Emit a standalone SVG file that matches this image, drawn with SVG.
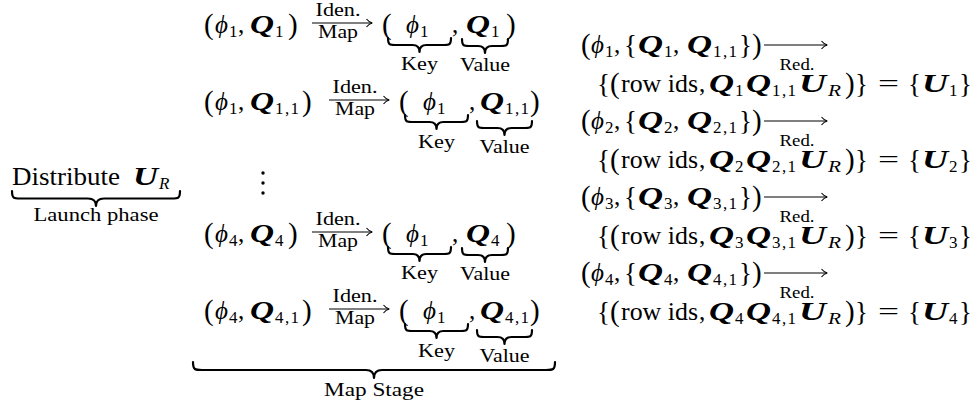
<svg xmlns="http://www.w3.org/2000/svg" width="976" height="409" viewBox="0 0 976 409" font-family="'Liberation Serif', serif">
<defs>
<style>
text{font-family:"Liberation Serif","Times New Roman",serif;fill:#000}
.m{font-size:25px}
.p{font-size:29px}
.c{font-size:27px}
.i{font-style:italic}
.b{font-style:italic;font-weight:bold;font-size:26px}
.s{font-size:17px}
.l{font-size:19px;text-anchor:middle}
.r{font-size:17px;text-anchor:middle}
.br{fill:none;stroke:#000;stroke-width:2.2;stroke-linecap:round;stroke-linejoin:round}
.ar{fill:none;stroke:#000;stroke-width:1.1}
.dot{fill:#000}
</style>
<marker id="ah" markerWidth="10" markerHeight="10" refX="9" refY="5" orient="auto" markerUnits="userSpaceOnUse">
<path d="M3.5 1 Q6 4.2 9.3 5 Q6 5.8 3.5 9" fill="none" stroke="#000" stroke-width="1.1"/>
</marker>
</defs>
<rect width="976" height="409" fill="#fff"/>

<g id="launch">
<text class="m" y="185"><tspan x="12" textLength="108" lengthAdjust="spacingAndGlyphs">Distribute</tspan><tspan x="133" class="b" textLength="25" lengthAdjust="spacingAndGlyphs">U</tspan><tspan x="159" y="189" class="s i">R</tspan></text>
<path class="br" d="M12 191 C12 198.5 14 198.5 20 198.5 L88 198.5 C93 198.5 96 200.5 96 206 C96 200.5 99 198.5 104 198.5 L172 198.5 C178 198.5 180 198.5 180 191"/>
<text class="l" x="96" y="221" textLength="125" lengthAdjust="spacingAndGlyphs">Launch phase</text>
</g>

<g id="map-stage">
<g id="map-row1">
<text class="m"><tspan x="204" y="34" class="p">(</tspan><tspan x="215" y="33" class="i">ϕ</tspan><tspan x="229" y="37" class="s">1</tspan><tspan x="238" y="33">,</tspan><tspan x="250" y="33" class="b" textLength="24" lengthAdjust="spacingAndGlyphs">Q</tspan><tspan x="275" y="37" class="s">1</tspan><tspan x="288" y="34" class="p">)</tspan></text>
<text class="l" x="338" y="16" textLength="45" lengthAdjust="spacingAndGlyphs">Iden.</text>
<text class="l" x="338" y="38" textLength="40" lengthAdjust="spacingAndGlyphs">Map</text>
<text class="m"><tspan x="382" y="34" class="p">(</tspan><tspan x="406" y="33" class="i">ϕ</tspan><tspan x="420" y="37" class="s">1</tspan><tspan x="452" y="33">,</tspan><tspan x="466" y="33" class="b" textLength="24" lengthAdjust="spacingAndGlyphs">Q</tspan><tspan x="491" y="37" class="s">1</tspan><tspan x="506" y="34" class="p">)</tspan></text>
<path class="br" d="M388 38 C388 45 390 45 395 45 L412.5 45 C417.5 45 419.5 47 419.5 52 C419.5 47 421.5 45 426.5 45 L444 45 C449 45 451 45 451 38"/>
<path class="br" d="M462 39 C462 46 464 46 469 46 L478 46 C483 46 485 48 485 53 C485 48 487 46 492 46 L501 46 C506 46 508 46 508 39"/>
<text class="l" x="419.5" y="70" textLength="37" lengthAdjust="spacingAndGlyphs">Key</text>
<text class="l" x="485" y="71" textLength="50" lengthAdjust="spacingAndGlyphs">Value</text>
</g>
<g id="map-row2">
<text class="m"><tspan x="204" y="111" class="p">(</tspan><tspan x="215" y="110" class="i">ϕ</tspan><tspan x="229" y="114" class="s">1</tspan><tspan x="238" y="110">,</tspan><tspan x="250" y="110" class="b" textLength="24" lengthAdjust="spacingAndGlyphs">Q</tspan><tspan x="275" y="114" class="s" textLength="24">1,1</tspan><tspan x="302" y="111" class="p">)</tspan></text>
<text class="l" x="355" y="93" textLength="45" lengthAdjust="spacingAndGlyphs">Iden.</text>
<text class="l" x="355" y="115" textLength="40" lengthAdjust="spacingAndGlyphs">Map</text>
<text class="m"><tspan x="399" y="111" class="p">(</tspan><tspan x="423" y="110" class="i">ϕ</tspan><tspan x="437" y="114" class="s">1</tspan><tspan x="469" y="110">,</tspan><tspan x="480" y="110" class="b" textLength="24" lengthAdjust="spacingAndGlyphs">Q</tspan><tspan x="505" y="114" class="s" textLength="24">1,1</tspan><tspan x="530" y="111" class="p">)</tspan></text>
<path class="br" d="M405 115 C405 122 407 122 412 122 L429.5 122 C434.5 122 436.5 124 436.5 129 C436.5 124 438.5 122 443.5 122 L461 122 C466 122 468 122 468 115"/>
<path class="br" d="M477 121 C477 128 479 128 484 128 L497.5 128 C502.5 128 504.5 130 504.5 135 C504.5 130 506.5 128 511.5 128 L525 128 C530 128 532 128 532 121"/>
<text class="l" x="436.5" y="148" textLength="37" lengthAdjust="spacingAndGlyphs">Key</text>
<text class="l" x="504.5" y="153" textLength="50" lengthAdjust="spacingAndGlyphs">Value</text>
</g>
<g id="map-dots">
<circle class="dot" cx="263" cy="173" r="1.7"/>
<circle class="dot" cx="263" cy="183" r="1.7"/>
<circle class="dot" cx="263" cy="193" r="1.7"/>
</g>
<g id="map-row4" transform="translate(0,209)">
<text class="m"><tspan x="204" y="34" class="p">(</tspan><tspan x="215" y="33" class="i">ϕ</tspan><tspan x="229" y="37" class="s">4</tspan><tspan x="238" y="33">,</tspan><tspan x="250" y="33" class="b" textLength="24" lengthAdjust="spacingAndGlyphs">Q</tspan><tspan x="275" y="37" class="s">4</tspan><tspan x="288" y="34" class="p">)</tspan></text>
<text class="l" x="338" y="16" textLength="45" lengthAdjust="spacingAndGlyphs">Iden.</text>
<text class="l" x="338" y="38" textLength="40" lengthAdjust="spacingAndGlyphs">Map</text>
<text class="m"><tspan x="382" y="34" class="p">(</tspan><tspan x="406" y="33" class="i">ϕ</tspan><tspan x="420" y="37" class="s">1</tspan><tspan x="452" y="33">,</tspan><tspan x="466" y="33" class="b" textLength="24" lengthAdjust="spacingAndGlyphs">Q</tspan><tspan x="491" y="37" class="s">4</tspan><tspan x="506" y="34" class="p">)</tspan></text>
<path class="br" d="M388 38 C388 45 390 45 395 45 L412.5 45 C417.5 45 419.5 47 419.5 52 C419.5 47 421.5 45 426.5 45 L444 45 C449 45 451 45 451 38"/>
<path class="br" d="M462 39 C462 46 464 46 469 46 L478 46 C483 46 485 48 485 53 C485 48 487 46 492 46 L501 46 C506 46 508 46 508 39"/>
<text class="l" x="419.5" y="70" textLength="37" lengthAdjust="spacingAndGlyphs">Key</text>
<text class="l" x="485" y="71" textLength="50" lengthAdjust="spacingAndGlyphs">Value</text>
</g>
<g id="map-row5" transform="translate(0,209)">
<text class="m"><tspan x="204" y="111" class="p">(</tspan><tspan x="215" y="110" class="i">ϕ</tspan><tspan x="229" y="114" class="s">4</tspan><tspan x="238" y="110">,</tspan><tspan x="250" y="110" class="b" textLength="24" lengthAdjust="spacingAndGlyphs">Q</tspan><tspan x="275" y="114" class="s" textLength="24">4,1</tspan><tspan x="302" y="111" class="p">)</tspan></text>
<text class="l" x="355" y="93" textLength="45" lengthAdjust="spacingAndGlyphs">Iden.</text>
<text class="l" x="355" y="115" textLength="40" lengthAdjust="spacingAndGlyphs">Map</text>
<text class="m"><tspan x="399" y="111" class="p">(</tspan><tspan x="423" y="110" class="i">ϕ</tspan><tspan x="437" y="114" class="s">1</tspan><tspan x="469" y="110">,</tspan><tspan x="480" y="110" class="b" textLength="24" lengthAdjust="spacingAndGlyphs">Q</tspan><tspan x="505" y="114" class="s" textLength="24">4,1</tspan><tspan x="530" y="111" class="p">)</tspan></text>
<path class="br" d="M405 115 C405 122 407 122 412 122 L429.5 122 C434.5 122 436.5 124 436.5 129 C436.5 124 438.5 122 443.5 122 L461 122 C466 122 468 122 468 115"/>
<path class="br" d="M477 121 C477 128 479 128 484 128 L497.5 128 C502.5 128 504.5 130 504.5 135 C504.5 130 506.5 128 511.5 128 L525 128 C530 128 532 128 532 121"/>
<text class="l" x="436.5" y="148" textLength="37" lengthAdjust="spacingAndGlyphs">Key</text>
<text class="l" x="504.5" y="153" textLength="50" lengthAdjust="spacingAndGlyphs">Value</text>
</g>
<path class="br" d="M193 362 C193 370 195 370 202 370 L366 370 C371 370 374 372 374 378 C374 372 377 370 382 370 L546 370 C553 370 555 370 555 362"/>
<text class="l" x="374" y="396" textLength="100" lengthAdjust="spacingAndGlyphs">Map Stage</text>
</g>

<g id="reduce">
<g id="red1">
<text class="m"><tspan x="581" y="54" class="p">(</tspan><tspan x="591" y="53" class="i">ϕ</tspan><tspan x="605" y="57" class="s">1</tspan><tspan x="614" y="53">,</tspan><tspan x="624" y="54" class="c">{</tspan><tspan x="638" y="53" class="b" textLength="25" lengthAdjust="spacingAndGlyphs">Q</tspan><tspan x="664" y="57" class="s">1</tspan><tspan x="673" y="53">,</tspan><tspan x="687" y="53" class="b" textLength="25" lengthAdjust="spacingAndGlyphs">Q</tspan><tspan x="713" y="57" class="s" textLength="24">1,1</tspan><tspan x="739" y="54" class="c">}</tspan><tspan x="752" y="54" class="p">)</tspan></text>
<text class="r" x="797" y="70" textLength="35" lengthAdjust="spacingAndGlyphs">Red.</text>
<text class="m"><tspan x="597" y="93" class="c">{</tspan><tspan x="610" y="93" class="p">(</tspan><tspan x="621" y="92" textLength="77" lengthAdjust="spacingAndGlyphs">row ids</tspan><tspan x="699" y="92">,</tspan><tspan x="709" y="92" class="b" textLength="25" lengthAdjust="spacingAndGlyphs">Q</tspan><tspan x="735" y="96" class="s">1</tspan><tspan x="746" y="92" class="b" textLength="25" lengthAdjust="spacingAndGlyphs">Q</tspan><tspan x="772" y="96" class="s" textLength="24">1,1</tspan><tspan x="799" y="92" class="b" textLength="27" lengthAdjust="spacingAndGlyphs">U</tspan><tspan x="828" y="96" class="s i" textLength="13" lengthAdjust="spacingAndGlyphs">R</tspan><tspan x="845" y="93" class="p">)</tspan><tspan x="855" y="93" class="c">}</tspan><tspan x="878" y="92" textLength="21" lengthAdjust="spacingAndGlyphs">=</tspan><tspan x="908" y="93" class="c">{</tspan><tspan x="922" y="92" class="b" textLength="26" lengthAdjust="spacingAndGlyphs">U</tspan><tspan x="949" y="96" class="s">1</tspan><tspan x="959" y="93" class="c">}</tspan></text>
</g>
<g id="red2" transform="translate(0,76)">
<text class="m"><tspan x="581" y="54" class="p">(</tspan><tspan x="591" y="53" class="i">ϕ</tspan><tspan x="605" y="57" class="s">2</tspan><tspan x="614" y="53">,</tspan><tspan x="624" y="54" class="c">{</tspan><tspan x="638" y="53" class="b" textLength="25" lengthAdjust="spacingAndGlyphs">Q</tspan><tspan x="664" y="57" class="s">2</tspan><tspan x="673" y="53">,</tspan><tspan x="687" y="53" class="b" textLength="25" lengthAdjust="spacingAndGlyphs">Q</tspan><tspan x="713" y="57" class="s" textLength="24">2,1</tspan><tspan x="739" y="54" class="c">}</tspan><tspan x="752" y="54" class="p">)</tspan></text>
<text class="r" x="797" y="70" textLength="35" lengthAdjust="spacingAndGlyphs">Red.</text>
<text class="m"><tspan x="597" y="93" class="c">{</tspan><tspan x="610" y="93" class="p">(</tspan><tspan x="621" y="92" textLength="77" lengthAdjust="spacingAndGlyphs">row ids</tspan><tspan x="699" y="92">,</tspan><tspan x="709" y="92" class="b" textLength="25" lengthAdjust="spacingAndGlyphs">Q</tspan><tspan x="735" y="96" class="s">2</tspan><tspan x="746" y="92" class="b" textLength="25" lengthAdjust="spacingAndGlyphs">Q</tspan><tspan x="772" y="96" class="s" textLength="24">2,1</tspan><tspan x="799" y="92" class="b" textLength="27" lengthAdjust="spacingAndGlyphs">U</tspan><tspan x="828" y="96" class="s i" textLength="13" lengthAdjust="spacingAndGlyphs">R</tspan><tspan x="845" y="93" class="p">)</tspan><tspan x="855" y="93" class="c">}</tspan><tspan x="878" y="92" textLength="21" lengthAdjust="spacingAndGlyphs">=</tspan><tspan x="908" y="93" class="c">{</tspan><tspan x="922" y="92" class="b" textLength="26" lengthAdjust="spacingAndGlyphs">U</tspan><tspan x="949" y="96" class="s">2</tspan><tspan x="959" y="93" class="c">}</tspan></text>
</g>
<g id="red3" transform="translate(0,152)">
<text class="m"><tspan x="581" y="54" class="p">(</tspan><tspan x="591" y="53" class="i">ϕ</tspan><tspan x="605" y="57" class="s">3</tspan><tspan x="614" y="53">,</tspan><tspan x="624" y="54" class="c">{</tspan><tspan x="638" y="53" class="b" textLength="25" lengthAdjust="spacingAndGlyphs">Q</tspan><tspan x="664" y="57" class="s">3</tspan><tspan x="673" y="53">,</tspan><tspan x="687" y="53" class="b" textLength="25" lengthAdjust="spacingAndGlyphs">Q</tspan><tspan x="713" y="57" class="s" textLength="24">3,1</tspan><tspan x="739" y="54" class="c">}</tspan><tspan x="752" y="54" class="p">)</tspan></text>
<text class="r" x="797" y="70" textLength="35" lengthAdjust="spacingAndGlyphs">Red.</text>
<text class="m"><tspan x="597" y="93" class="c">{</tspan><tspan x="610" y="93" class="p">(</tspan><tspan x="621" y="92" textLength="77" lengthAdjust="spacingAndGlyphs">row ids</tspan><tspan x="699" y="92">,</tspan><tspan x="709" y="92" class="b" textLength="25" lengthAdjust="spacingAndGlyphs">Q</tspan><tspan x="735" y="96" class="s">3</tspan><tspan x="746" y="92" class="b" textLength="25" lengthAdjust="spacingAndGlyphs">Q</tspan><tspan x="772" y="96" class="s" textLength="24">3,1</tspan><tspan x="799" y="92" class="b" textLength="27" lengthAdjust="spacingAndGlyphs">U</tspan><tspan x="828" y="96" class="s i" textLength="13" lengthAdjust="spacingAndGlyphs">R</tspan><tspan x="845" y="93" class="p">)</tspan><tspan x="855" y="93" class="c">}</tspan><tspan x="878" y="92" textLength="21" lengthAdjust="spacingAndGlyphs">=</tspan><tspan x="908" y="93" class="c">{</tspan><tspan x="922" y="92" class="b" textLength="26" lengthAdjust="spacingAndGlyphs">U</tspan><tspan x="949" y="96" class="s">3</tspan><tspan x="959" y="93" class="c">}</tspan></text>
</g>
<g id="red4" transform="translate(0,228)">
<text class="m"><tspan x="581" y="54" class="p">(</tspan><tspan x="591" y="53" class="i">ϕ</tspan><tspan x="605" y="57" class="s">4</tspan><tspan x="614" y="53">,</tspan><tspan x="624" y="54" class="c">{</tspan><tspan x="638" y="53" class="b" textLength="25" lengthAdjust="spacingAndGlyphs">Q</tspan><tspan x="664" y="57" class="s">4</tspan><tspan x="673" y="53">,</tspan><tspan x="687" y="53" class="b" textLength="25" lengthAdjust="spacingAndGlyphs">Q</tspan><tspan x="713" y="57" class="s" textLength="24">4,1</tspan><tspan x="739" y="54" class="c">}</tspan><tspan x="752" y="54" class="p">)</tspan></text>
<text class="r" x="797" y="70" textLength="35" lengthAdjust="spacingAndGlyphs">Red.</text>
<text class="m"><tspan x="597" y="93" class="c">{</tspan><tspan x="610" y="93" class="p">(</tspan><tspan x="621" y="92" textLength="77" lengthAdjust="spacingAndGlyphs">row ids</tspan><tspan x="699" y="92">,</tspan><tspan x="709" y="92" class="b" textLength="25" lengthAdjust="spacingAndGlyphs">Q</tspan><tspan x="735" y="96" class="s">4</tspan><tspan x="746" y="92" class="b" textLength="25" lengthAdjust="spacingAndGlyphs">Q</tspan><tspan x="772" y="96" class="s" textLength="24">4,1</tspan><tspan x="799" y="92" class="b" textLength="27" lengthAdjust="spacingAndGlyphs">U</tspan><tspan x="828" y="96" class="s i" textLength="13" lengthAdjust="spacingAndGlyphs">R</tspan><tspan x="845" y="93" class="p">)</tspan><tspan x="855" y="93" class="c">}</tspan><tspan x="878" y="92" textLength="21" lengthAdjust="spacingAndGlyphs">=</tspan><tspan x="908" y="93" class="c">{</tspan><tspan x="922" y="92" class="b" textLength="26" lengthAdjust="spacingAndGlyphs">U</tspan><tspan x="949" y="96" class="s">4</tspan><tspan x="959" y="93" class="c">}</tspan></text>
</g>
</g>

<g id="connectors">
<line class="ar" x1="312" y1="23" x2="372" y2="23" marker-end="url(#ah)"/>
<line class="ar" x1="329" y1="100" x2="389" y2="100" marker-end="url(#ah)"/>
<line class="ar" x1="312" y1="232" x2="372" y2="232" marker-end="url(#ah)"/>
<line class="ar" x1="329" y1="309" x2="389" y2="309" marker-end="url(#ah)"/>
<line class="ar" x1="764" y1="45" x2="827" y2="45" marker-end="url(#ah)"/>
<line class="ar" x1="764" y1="121" x2="827" y2="121" marker-end="url(#ah)"/>
<line class="ar" x1="764" y1="197" x2="827" y2="197" marker-end="url(#ah)"/>
<line class="ar" x1="764" y1="273" x2="827" y2="273" marker-end="url(#ah)"/>
</g>
</svg>
